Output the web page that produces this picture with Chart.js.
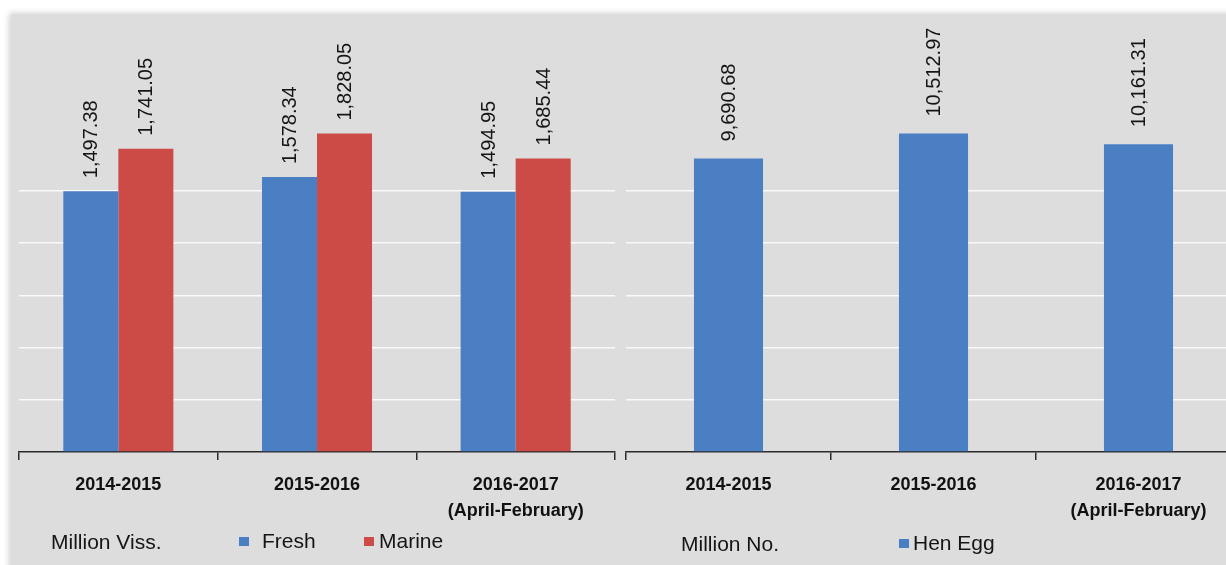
<!DOCTYPE html>
<html>
<head>
<meta charset="utf-8">
<script src="https://cdn.jsdelivr.net/npm/chart.js@4.4.1/dist/chart.umd.min.js"></script>
<style>
  html, body { margin: 0; padding: 0; width: 1226px; height: 565px; overflow: hidden; background: #fff; }
  #panel { position: absolute; left: 11px; top: 15px; width: 1230px; height: 560px; background: #dddddd;
           box-shadow: -2px -2px 6px rgba(0,0,0,0.18); }
  canvas { position: absolute; top: 0; }
  #leftChart { left: 0; }
  #rightChart { left: 620px; }
  .unit, .leg { position: absolute; font-family: "Liberation Sans", Arial, sans-serif; font-size: 21px; color: #151515; line-height: 24px; }
  .box { position: absolute; width: 10px; height: 9px; }
</style>
</head>
<body>
<div id="panel"></div>
<canvas id="leftChart" width="620" height="565"></canvas>
<canvas id="rightChart" width="640" height="565"></canvas>
<div class="unit" style="left:51px; top:530px;">Million Viss.</div>
<div class="unit" style="left:681px; top:532px;">Million No.</div>
<div id="legends"></div>
<script>
// chart values
const categories = ['2014-2015', '2015-2016', ['2016-2017', '(April-February)']];
const freshValues = [1497.38, 1578.34, 1494.95];
const marineValues = [1741.05, 1828.05, 1685.44];
const henEggValues = [9690.68, 10512.97, 10161.31];

const blue = '#4a7fc4';
const red = '#cd4b47';
const fontFamily = '"Liberation Sans", Arial, sans-serif';

// rotated value labels above each bar
const valueLabels = {
  id: 'valueLabels',
  afterDatasetsDraw(chart, args, opts) {
    const ctx = chart.ctx;
    ctx.save();
    ctx.font = '20px ' + fontFamily;
    ctx.fillStyle = '#151515';
    ctx.textAlign = 'left';
    ctx.textBaseline = 'middle';
    chart.data.datasets.forEach((ds, i) => {
      chart.getDatasetMeta(i).data.forEach((bar, j) => {
        const txt = ds.data[j].toLocaleString('en-US', { minimumFractionDigits: 2, maximumFractionDigits: 2 });
        ctx.save();
        ctx.translate(bar.x + 1, bar.y - opts.gap);
        ctx.rotate(-Math.PI / 2);
        ctx.fillText(txt, 0, 0);
        ctx.restore();
      });
    });
    ctx.restore();
  }
};

function makeOptions(yMax, step, gridLimit, catPct, padding, gap) {
  return {
    responsive: false,
    animation: false,
    layout: { padding: padding },
    plugins: { legend: { display: false }, tooltip: { enabled: false }, valueLabels: { gap: gap } },
    scales: {
      x: {
        grid: { offset: true, drawOnChartArea: false, drawTicks: true, tickLength: 8, color: '#2a2a2a', lineWidth: 1.5 },
        border: { display: true, color: '#2a2a2a', width: 1.5 },
        ticks: { color: '#111', padding: 12, font: { family: fontFamily, size: 18, weight: 'bold', lineHeight: 1.44 }, maxRotation: 0 },
        afterFit: (s) => { s.height = 113; }
      },
      y: {
        min: 0, max: yMax,
        grid: {
          color: (c) => (c.tick && c.tick.value > 0 && c.tick.value <= gridLimit) ? 'rgba(255,255,255,0.85)' : 'rgba(0,0,0,0)',
          lineWidth: 1.5, drawTicks: false
        },
        border: { display: false },
        ticks: { display: false, stepSize: step },
        afterFit: (s) => { s.width = 0; }
      }
    },
    datasets: { bar: { categoryPercentage: catPct, barPercentage: 1 } }
  };
}

new Chart(document.getElementById('leftChart'), {
  type: 'bar',
  data: {
    labels: categories,
    datasets: [
      { label: 'Fresh', data: freshValues, backgroundColor: blue },
      { label: 'Marine', data: marineValues, backgroundColor: red }
    ]
  },
  options: makeOptions(2400, 300, 1500, 0.554, { left: 19, right: 5, top: 34, bottom: 0 }, 13),
  plugins: [valueLabels]
});

new Chart(document.getElementById('rightChart'), {
  type: 'bar',
  data: {
    labels: categories,
    datasets: [
      { label: 'Hen Egg', data: henEggValues, backgroundColor: blue }
    ]
  },
  options: makeOptions(13800, 1700, 10200, 0.337, { left: 6, right: 19, top: 34, bottom: 0 }, 17),
  plugins: [valueLabels]
});

// legend entries built from the series names and colours
const legendItems = [
  { name: 'Fresh', color: blue, boxX: 239, textX: 262, y: 537 },
  { name: 'Marine', color: red, boxX: 364, textX: 379, y: 537 },
  { name: 'Hen Egg', color: blue, boxX: 899, textX: 913, y: 539 }
];
const legendEl = document.getElementById('legends');
legendItems.forEach(it => {
  const b = document.createElement('div');
  b.className = 'box';
  b.style.left = it.boxX + 'px';
  b.style.top = it.y + 'px';
  b.style.background = it.color;
  legendEl.appendChild(b);
  const t = document.createElement('div');
  t.className = 'leg';
  t.style.left = it.textX + 'px';
  t.style.top = (it.y - 8) + 'px';
  t.textContent = it.name;
  legendEl.appendChild(t);
});
</script>
</body>
</html>
